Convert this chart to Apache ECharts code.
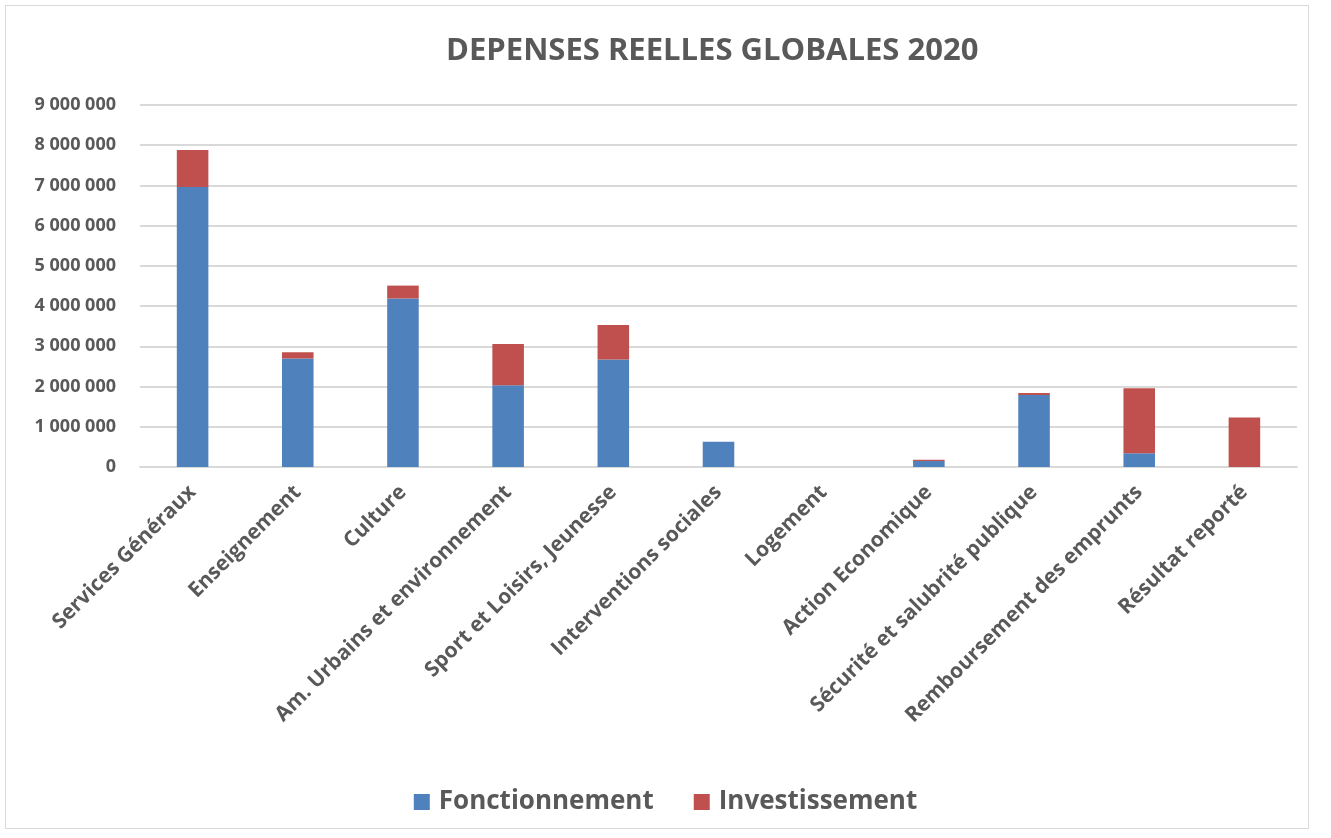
<!DOCTYPE html>
<html>
<head>
<meta charset="utf-8">
<script src="https://cdn.jsdelivr.net/npm/echarts@6/dist/echarts.min.js"></script>
<style>
  html, body { margin: 0; padding: 0; background: #fff; }
  #frame { position: absolute; left: 5px; top: 5px; width: 1304px; height: 824px; border: 1px solid #d9d9d9; box-sizing: border-box; }
  #chart { position: absolute; left: 0; top: 0; width: 1331px; height: 838px; }
</style>
</head>
<body>
<div id="frame"></div>
<div id="chart"></div>
<script>
// Dépenses réelles 2020 par fonction (en euros)
const categories = [
  'Services Généraux', 'Enseignement', 'Culture', 'Am. Urbains et environnement',
  'Sport et Loisirs, Jeunesse', 'Interventions sociales', 'Logement', 'Action Economique',
  'Sécurité et salubrité publique', 'Remboursement des emprunts', 'Résultat reporté'
];
const fonctionnement = [6960000, 2700000, 4190000, 2030000, 2670000, 630000, 0, 150000, 1790000, 340000, 0];
const investissement = [920000, 150000, 320000, 1030000, 860000, 0, 0, 30000, 50000, 1620000, 1230000];
const yTicks = [0, 1000000, 2000000, 3000000, 4000000, 5000000, 6000000, 7000000, 8000000, 9000000];

const fmt = v => String(v).replace(/\B(?=(\d{3})+(?!\d))/g, ' ');
const textColor = '#595959';
const font = 'Open Sans';

const chart = echarts.init(document.getElementById('chart'), null, { renderer: 'canvas' });
chart.setOption({
  animation: false,
  title: {
    text: 'DEPENSES REELLES GLOBALES 2020',
    left: 441, top: 31,
    textStyle: { color: textColor, fontFamily: font, fontWeight: 'bold', fontSize: 31 }
  },
  legend: {
    bottom: 18, left: 'center',
    itemWidth: 16, itemHeight: 16, itemGap: 40,
    icon: 'rect',
    textStyle: { color: textColor, fontFamily: font, fontWeight: 'bold', fontSize: 26, padding: [0, 0, 0, 4] },
    data: ['Fonctionnement', 'Investissement']
  },
  grid: { left: 140, right: 34, top: 105, bottom: 371 },
  xAxis: {
    type: 'category',
    data: categories,
    axisLine: { show: true, lineStyle: { color: '#d9d9d9', width: 2 } },
    axisTick: { show: false },
    axisLabel: {
      interval: 0, rotate: 45, margin: 22,
      color: textColor, fontFamily: font, fontWeight: 'bold', fontSize: 21
    }
  },
  yAxis: {
    type: 'value',
    min: yTicks[0], max: yTicks[yTicks.length - 1], interval: yTicks[1] - yTicks[0],
    axisLine: { show: false }, axisTick: { show: false },
    splitLine: { lineStyle: { color: '#d9d9d9', width: 2 } },
    axisLabel: {
      margin: 24, color: textColor, fontFamily: font, fontWeight: 'bold', fontSize: 18,
      formatter: v => fmt(v)
    }
  },
  series: [
    { name: 'Fonctionnement', type: 'bar', stack: 'total', barWidth: '30%',
      itemStyle: { color: '#4f81bd' }, data: fonctionnement },
    { name: 'Investissement', type: 'bar', stack: 'total', barWidth: '30%',
      itemStyle: { color: '#c0504d' }, data: investissement }
  ]
});
</script>
</body>
</html>
